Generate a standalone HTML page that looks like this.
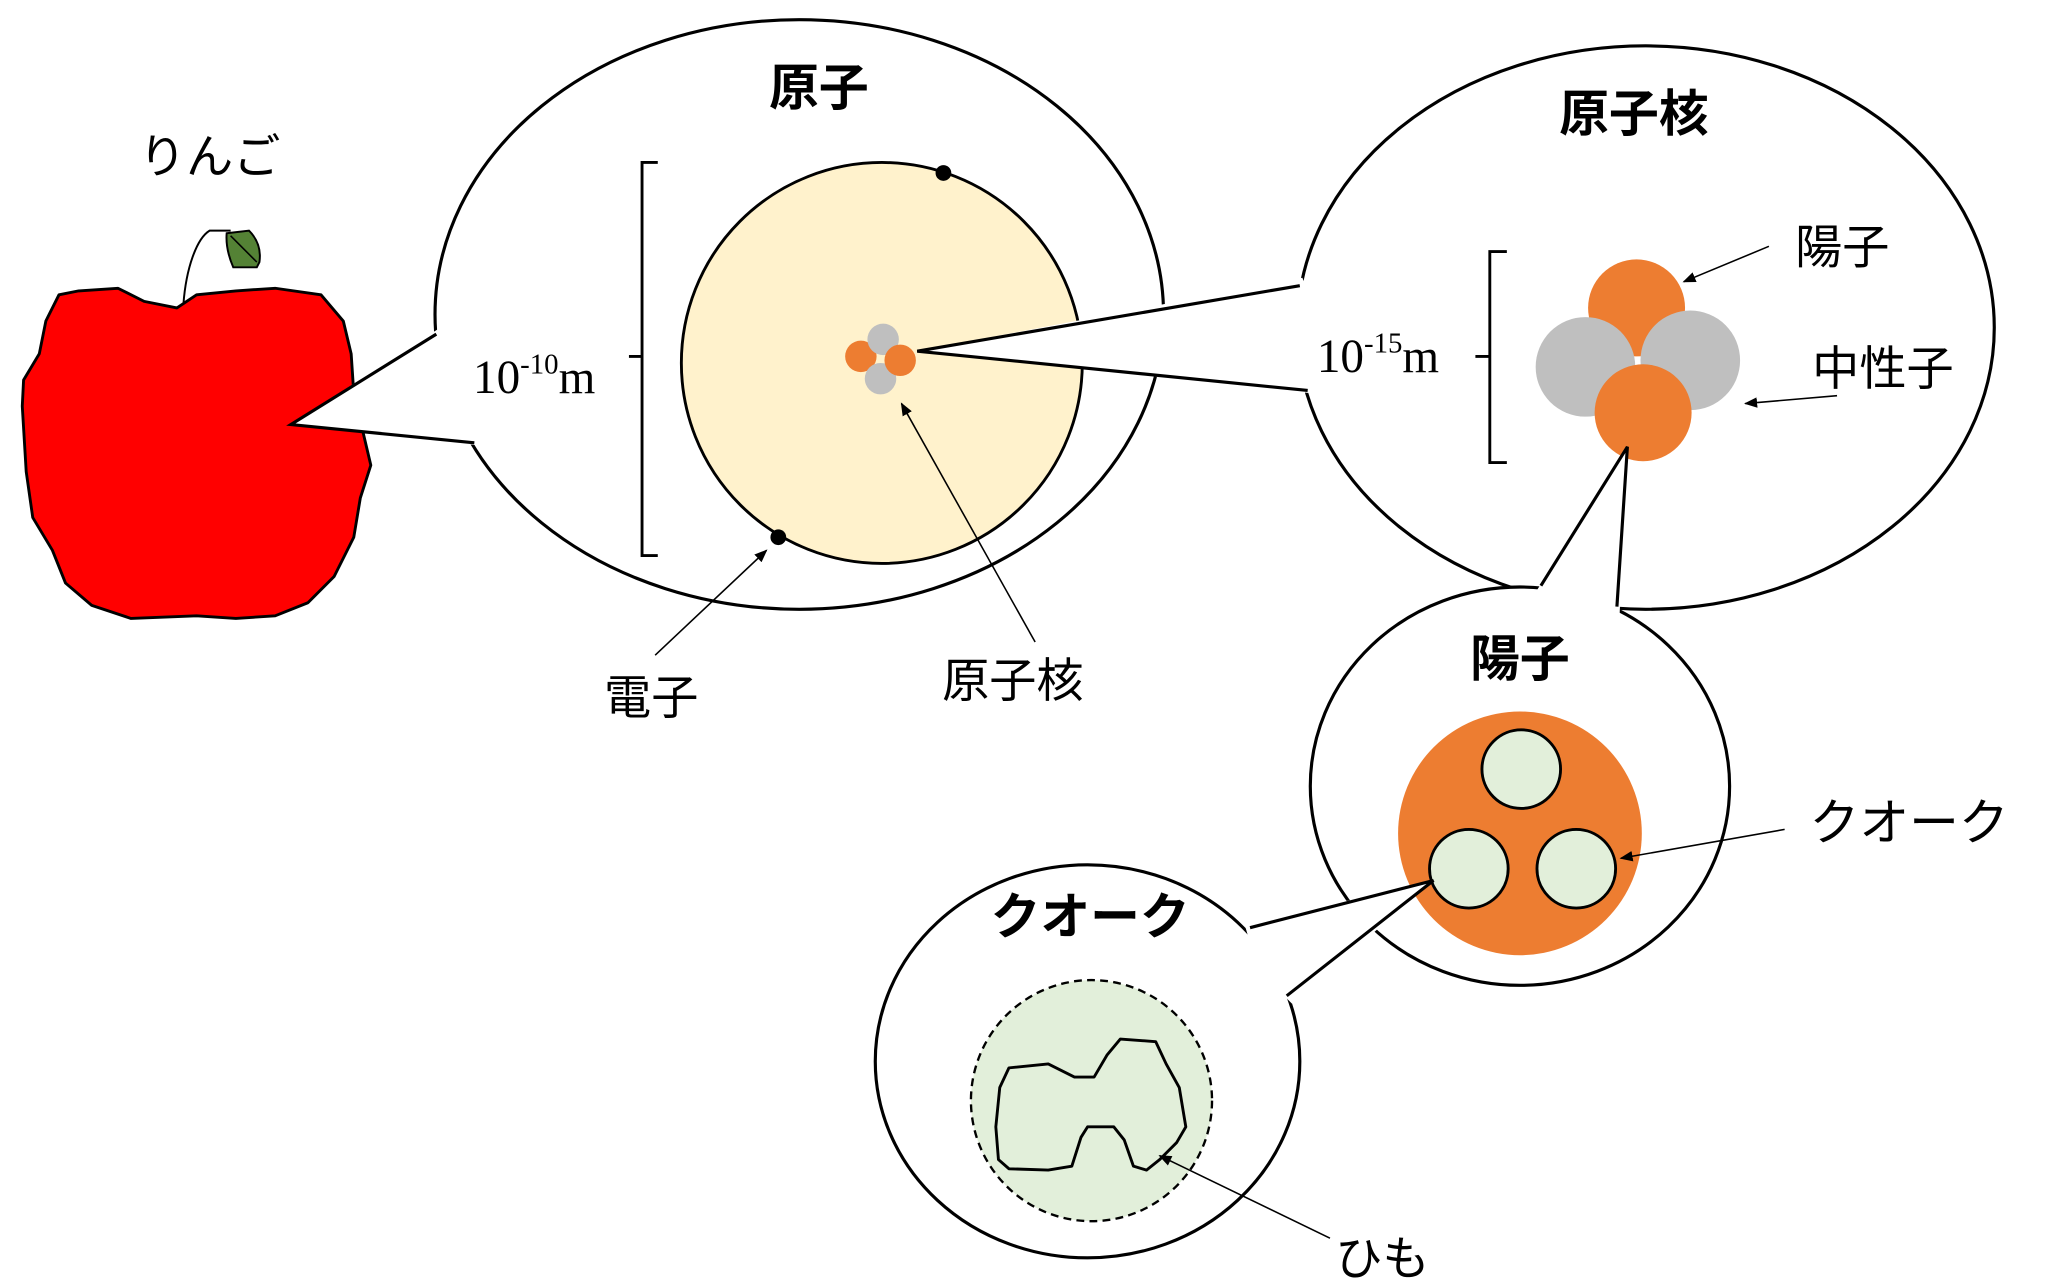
<!DOCTYPE html>
<html><head><meta charset="utf-8"><style>
html,body{margin:0;padding:0;background:#fff;}
svg{display:block;}
text{font-family:"Liberation Sans","Noto Sans CJK JP",sans-serif;}
.s{font-family:"Liberation Serif","Noto Serif CJK SC",serif;}
</style></head><body>
<svg width="2048" height="1288" viewBox="0 0 1563 983" preserveAspectRatio="none" xmlns="http://www.w3.org/2000/svg">
<defs><marker id="ah" markerWidth="10" markerHeight="8" refX="9" refY="4" orient="auto" markerUnits="userSpaceOnUse"><path d="M0,0 L10,4 L0,8 z" fill="#000"/></marker></defs>
<rect width="1563" height="983" fill="#fff"/>

<!-- apple -->
<path d="M140,232 C142,205 150,182 160,176 L176,176" fill="none" stroke="#000" stroke-width="1.5"/>
<path d="M173,178 L190,176 Q200,186 198,200 L196,204 L178,204 Q172,190 173,178 Z" fill="#548235" stroke="#000" stroke-width="1.5"/>
<line x1="176" y1="180" x2="196" y2="200" stroke="#000" stroke-width="1.2"/>
<path d="M45,225 L60,222 L90,220 L110,230 L135,235 L150,225 L180,222 L210,220 L245,225 L262,245 L268,270 L270,300 L283,355 L275,380 L270,410 L255,440 L235,460 L210,470 L180,472 L150,470 L100,472 L70,462 L50,445 L40,420 L25,395 L20,360 L17,310 L18,290 L30,270 L35,245 Z" fill="#ff0000" stroke="#000" stroke-width="2.2" stroke-linejoin="round"/>
<text x="160" y="132" font-size="36" text-anchor="middle">りんご</text>

<!-- atom bubble -->
<ellipse cx="610" cy="240" rx="278" ry="225" fill="#fff" stroke="#000" stroke-width="2.4"/>
<polygon points="336,250 222,324 366,340 372,300" fill="#fff"/>
<polyline points="333,255 222,324 362,338" fill="none" stroke="#000" stroke-width="2.4"/>
<circle cx="673" cy="277" r="153" fill="#fff2cc" stroke="#000" stroke-width="2.2"/>
<circle cx="720" cy="132" r="6" fill="#000"/>
<circle cx="594" cy="410" r="6" fill="#000"/>
<circle cx="657" cy="272" r="12" fill="#ed7d31"/>
<circle cx="674" cy="259" r="12" fill="#bfbfbf"/>
<circle cx="672" cy="289" r="12" fill="#bfbfbf"/>
<circle cx="687" cy="275" r="12" fill="#ed7d31"/>
<path d="M502,124 L490,124 L490,424 L502,424 M490,272 L480,272" fill="none" stroke="#000" stroke-width="2.2"/>
<text class="s" x="361" y="300" font-size="36">10<tspan font-size="22" dy="-15">-10</tspan><tspan dy="15">m</tspan></text>
<text x="625" y="80" font-size="38" font-weight="bold" text-anchor="middle">原子</text>
<text x="497" y="545" font-size="36" text-anchor="middle">電子</text>
<line x1="500" y1="500" x2="585" y2="420" stroke="#000" stroke-width="1.2" marker-end="url(#ah)"/>
<text x="773" y="532" font-size="36" text-anchor="middle">原子核</text>
<line x1="790" y1="490" x2="688" y2="308" stroke="#000" stroke-width="1.2" marker-end="url(#ah)"/>

<!-- nucleus bubble -->
<ellipse cx="1256" cy="250" rx="266" ry="215" fill="#fff" stroke="#000" stroke-width="2.4"/>
<polygon points="994,212 700,268 1000,300 1010,260" fill="#fff"/>
<polyline points="992,218 700,268 998,298" fill="none" stroke="#000" stroke-width="2.4"/>
<text x="1247" y="100" font-size="38" font-weight="bold" text-anchor="middle">原子核</text>
<circle cx="1249" cy="235" r="37" fill="#ed7d31"/>
<circle cx="1210" cy="280" r="38" fill="#bfbfbf"/>
<circle cx="1290" cy="275" r="38" fill="#bfbfbf"/>
<circle cx="1254" cy="315" r="37" fill="#ed7d31"/>
<path d="M1150,192 L1137,192 L1137,353 L1150,353 M1137,272 L1126,272" fill="none" stroke="#000" stroke-width="2.2"/>
<text class="s" x="1005" y="284" font-size="36">10<tspan font-size="22" dy="-15">-15</tspan><tspan dy="15">m</tspan></text>
<text x="1406" y="201" font-size="36" text-anchor="middle">陽子</text>
<line x1="1350" y1="188" x2="1285" y2="215" stroke="#000" stroke-width="1.2" marker-end="url(#ah)"/>
<text x="1437" y="294" font-size="36" text-anchor="middle">中性子</text>
<line x1="1402" y1="302" x2="1332" y2="308" stroke="#000" stroke-width="1.2" marker-end="url(#ah)"/>

<!-- proton bubble -->
<ellipse cx="1160" cy="600" rx="160" ry="152" fill="#fff" stroke="#000" stroke-width="2.4"/>
<polygon points="1172,452 1242,341 1236,470 1200,470" fill="#fff"/>
<polyline points="1176,447 1242,341 1234,463" fill="none" stroke="#000" stroke-width="2.4"/>
<text x="1160" y="516" font-size="38" font-weight="bold" text-anchor="middle">陽子</text>
<circle cx="1160" cy="636" r="93" fill="#ed7d31"/>
<circle cx="1161" cy="587" r="30" fill="#e2efda" stroke="#000" stroke-width="2.2"/>
<circle cx="1121" cy="663" r="30" fill="#e2efda" stroke="#000" stroke-width="2.2"/>
<circle cx="1203" cy="663" r="30" fill="#e2efda" stroke="#000" stroke-width="2.2"/>
<text x="1457" y="641" font-size="38" text-anchor="middle">クオーク</text>
<line x1="1362" y1="633" x2="1237" y2="655" stroke="#000" stroke-width="1.2" marker-end="url(#ah)"/>

<!-- quark bubble -->
<ellipse cx="830" cy="810" rx="162" ry="150" fill="#fff" stroke="#000" stroke-width="2.4"/>
<polygon points="950,706 1094,672 986,766 960,740" fill="#fff"/>
<polyline points="954,708 1094,672 982,760" fill="none" stroke="#000" stroke-width="2.4"/>
<text x="832" y="713" font-size="38" font-weight="bold" text-anchor="middle">クオーク</text>
<circle cx="833" cy="840" r="92" fill="#e2efda" stroke="#000" stroke-width="1.8" stroke-dasharray="6,4"/>
<path d="M770,815 L800,812 L820,822 L835,822 L845,805 L855,793 L882,795 L890,812 L900,830 L905,860 L898,872 L885,885 L875,893 L865,890 L858,870 L850,860 L830,860 L825,868 L818,890 L800,893 L770,892 L762,885 L760,860 L763,830 Z" fill="none" stroke="#000" stroke-width="2.2" stroke-linejoin="round"/>
<text x="1055" y="973" font-size="36" text-anchor="middle">ひも</text>
<line x1="1015" y1="945" x2="885" y2="882" stroke="#000" stroke-width="1.2" marker-end="url(#ah)"/>
</svg>
</body></html>
